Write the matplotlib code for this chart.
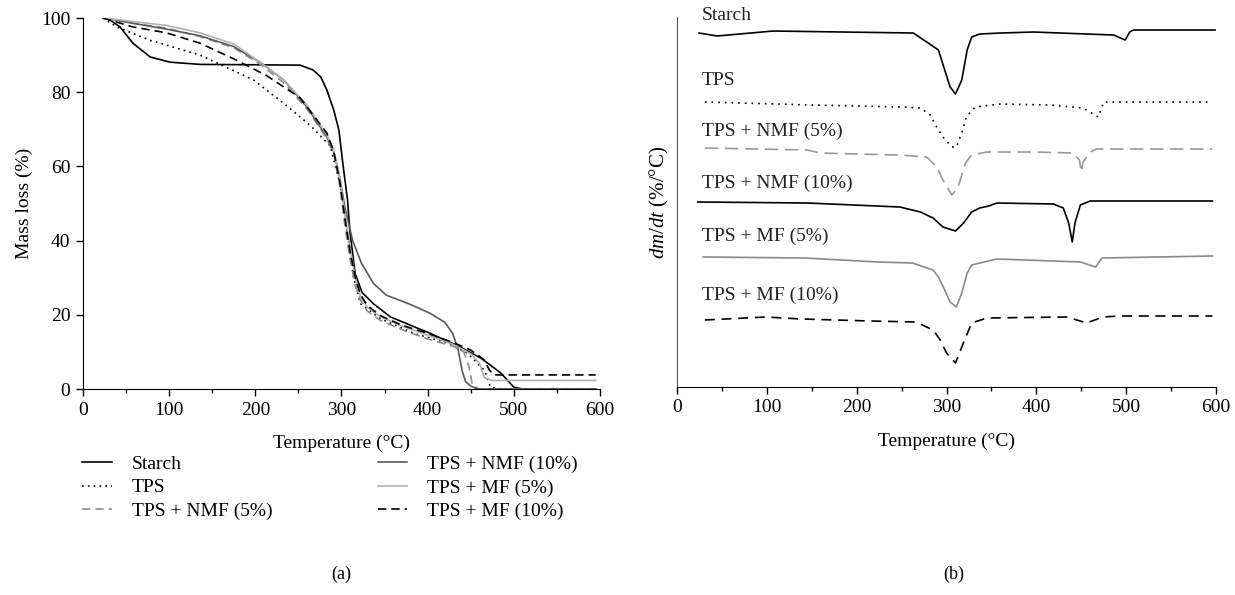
import matplotlib
matplotlib.use('Agg')
import matplotlib.pyplot as plt
from matplotlib.ticker import MultipleLocator

# ---- (a) TGA: mass loss (%) vs temperature (deg C) ----
starch_T = [23, 31, 43, 58, 78, 101, 136, 200, 252, 267, 276, 283, 291, 297, 302,
            307, 310, 316, 324, 337, 357, 403, 438, 462, 485, 500, 510, 595]
starch_M = [100, 99.5, 97.6, 93.2, 89.5, 88.1, 87.5, 87.4, 87.3, 86, 84.1, 80.6, 75.2,
            69.8, 60, 51, 42, 31, 26, 23, 19.4, 15, 11.3, 8.3, 4.3, 0.5, 0, 0]

tps_T = [23, 40, 78, 136, 198, 233, 264, 287, 299, 307, 314, 322, 345, 384, 423,
         446, 466, 473, 485, 595]
tps_M = [100, 97.5, 94, 90, 83.3, 77, 71, 65.5, 54.5, 42, 30, 23, 19, 15, 12.4,
         9.7, 5, 0.5, 0, 0]

nmf5_T = [25, 60, 97, 136, 175, 206, 233, 260, 283, 291, 298, 304, 310, 316, 322,
          330, 345, 370, 400, 430, 442, 448, 452, 460, 595]
nmf5_M = [100, 98.5, 97.3, 95, 92, 87.5, 82.5, 75.5, 67.5, 63.5, 55, 44, 35, 28, 24,
          21, 18.5, 16, 13.5, 11.5, 10, 6, 1, 0, 0]

nmf10_T = [25, 60, 97, 136, 175, 206, 233, 260, 283, 291, 298, 304, 313, 323, 337,
           352, 380, 402, 420, 429, 435, 440, 444, 450, 458, 595]
nmf10_M = [100, 98.5, 97, 95.2, 92.3, 88, 83.3, 76, 68, 64, 57, 49, 40, 34, 28.5,
           25.3, 22.8, 20.5, 18, 15, 11, 5, 2, 0.8, 0, 0]

mf5_T = [25, 60, 97, 136, 175, 206, 233, 260, 283, 291, 298, 304, 310, 316, 322,
         330, 345, 370, 400, 430, 450, 460, 466, 475, 595]
mf5_M = [100, 99, 98, 96, 93, 88, 83.3, 76.5, 68.5, 64.5, 57, 47, 38, 30, 25,
         22, 19.5, 17, 14.5, 12, 9.5, 7, 3, 2.3, 2.3]

mf10_T = [23, 58, 97, 136, 175, 213, 252, 283, 291, 298, 304, 310, 316, 322, 330,
          345, 370, 400, 430, 450, 465, 472, 477, 595]
mf10_M = [100, 97.6, 96, 93.2, 89, 84.5, 78.5, 69, 64, 56, 46, 37, 30, 25.5, 22.5,
          19.8, 17.2, 15, 12.5, 10.5, 8, 5, 3.8, 3.8]

# ---- (b) DTG curves, stacked, arbitrary units ----
d_starch_T = [24.5, 44.5, 107, 263, 278, 291, 298, 304, 310, 317, 323, 328, 337, 360,
              397, 486, 499, 504, 508, 599]
d_starch_u = [354, 351, 356, 354, 345, 337, 317, 300, 293, 307, 337, 350, 353, 354,
              355, 352, 347, 355, 357, 357]

d_tps_T = [31, 150, 252, 271, 282, 289, 296, 306, 311, 317, 322, 332, 360, 415, 452,
           469, 475, 591]
d_tps_u = [285, 282, 280, 279, 272, 260, 250, 240, 240, 254, 270, 280, 283, 282, 279,
           270, 285, 285]

d_nmf5_T = [31, 145, 159, 200, 248, 278, 289, 296, 306, 313, 321, 328, 345, 397, 441,
            448, 450, 452, 460, 467, 596]
d_nmf5_u = [239, 237, 234, 233, 232, 230, 220, 207, 192, 200, 224, 232, 235, 235, 234,
            227, 215, 225, 235, 238, 238]

d_nmf10_T = [23, 145, 248, 271, 285, 296, 310, 319, 328, 337, 347, 356, 419, 430, 436,
             440, 443, 449, 460, 596]
d_nmf10_u = [185, 184, 180, 175, 169, 160, 156, 164, 175, 179, 181, 184, 183, 179, 164,
             145, 164, 182, 186, 186]

d_mf5_T = [29, 142, 224, 262, 285, 291, 298, 304, 311, 317, 323, 328, 356, 449, 466,
           473, 596]
d_mf5_u = [130, 129, 125, 124, 117, 110, 97, 85, 80, 94, 114, 122, 128, 125, 120,
           129, 131]

d_mf10_T = [31, 99, 138, 215, 266, 285, 293, 300, 310, 317, 328, 345, 434, 456, 474,
            493, 596]
d_mf10_u = [67, 70, 68, 66, 65, 57, 47, 34, 24, 40, 64, 69, 70, 64, 70, 71, 71]

labels = ['Starch', 'TPS', 'TPS + NMF (5%)', 'TPS + NMF (10%)',
          'TPS + MF (5%)', 'TPS + MF (10%)']

plt.rcParams['font.family'] = ['Liberation Serif', 'DejaVu Serif']
plt.rcParams['mathtext.fontset'] = 'custom'
plt.rcParams['mathtext.rm'] = 'Liberation Serif'
plt.rcParams['mathtext.it'] = 'Liberation Serif:italic'
FS = 14

fig = plt.figure(figsize=(12.35, 5.95), dpi=100)
ax1 = fig.add_axes([0.0672, 0.3462, 0.4186, 0.6235])
ax2 = fig.add_axes([0.5482, 0.3496, 0.4364, 0.6218])

LW = 1.2
ax1.plot(starch_T, starch_M, '-', color='black', lw=LW, label=labels[0])
ax1.plot(tps_T, tps_M, color='black', lw=LW, ls=(0, (1, 2.5)), label=labels[1])
ax1.plot(nmf5_T, nmf5_M, color='#8c8c8c', lw=LW, ls=(0, (5, 3)), label=labels[2])
ax1.plot(nmf10_T, nmf10_M, '-', color='#5a5a5a', lw=LW, label=labels[3])
ax1.plot(mf5_T, mf5_M, '-', color='#b0b0b0', lw=LW, label=labels[4])
ax1.plot(mf10_T, mf10_M, color='black', lw=LW, ls=(0, (5, 3)), label=labels[5])

ax1.set_xlim(0, 600)
ax1.set_ylim(0, 100)
ax1.xaxis.set_major_locator(MultipleLocator(100))
ax1.xaxis.set_minor_locator(MultipleLocator(50))
ax1.yaxis.set_major_locator(MultipleLocator(20))
ax1.set_xlabel('Temperature (°C)', fontsize=FS, labelpad=12)
ax1.set_ylabel('Mass loss (%)', fontsize=FS, labelpad=6)

ax2.plot(d_starch_T, d_starch_u, '-', color='black', lw=LW)
ax2.plot(d_tps_T, d_tps_u, color='black', lw=LW, ls=(0, (1, 3)))
ax2.plot(d_nmf5_T, d_nmf5_u, color='#999999', lw=LW, ls=(0, (8, 4)))
ax2.plot(d_nmf10_T, d_nmf10_u, '-', color='black', lw=LW)
ax2.plot(d_mf5_T, d_mf5_u, '-', color='#8a8a8a', lw=LW)
ax2.plot(d_mf10_T, d_mf10_u, color='black', lw=LW, ls=(0, (6, 4)))

ax2.set_xlim(0, 600)
ax2.set_ylim(0, 370)
ax2.xaxis.set_major_locator(MultipleLocator(100))
ax2.xaxis.set_minor_locator(MultipleLocator(50))
ax2.set_yticks([])
ax2.set_xlabel('Temperature (°C)', fontsize=FS, labelpad=12)
ax2.set_ylabel('$dm/dt$ (%/°C)', fontsize=FS + 1, labelpad=4)

label_u = [372, 307, 256, 204, 151, 92]
for lab, u in zip(labels, label_u):
    ax2.text(28, u, lab, fontsize=FS, va='center', ha='left', clip_on=False,
             color='#222222')

for ax in (ax1, ax2):
    ax.spines['top'].set_visible(False)
    ax.spines['right'].set_visible(False)
    ax.tick_params(which='major', direction='out', length=5, width=1,
                   labelsize=FS, pad=4)
    ax.tick_params(which='minor', direction='out', length=3, width=1)
ax2.spines['left'].set_color('#555555')

fig.legend(loc='upper left', bbox_to_anchor=(0.0526, 0.264), ncol=2,
           frameon=False, fontsize=FS, handlelength=1.5, handletextpad=1.05,
           columnspacing=5.4, labelspacing=0.3)

fig.text(0.276, 0.035, '(a)', ha='center', va='center', fontsize=FS - 1)
fig.text(0.772, 0.035, '(b)', ha='center', va='center', fontsize=FS - 1)

fig.savefig('out.png', dpi=100, facecolor='white')
